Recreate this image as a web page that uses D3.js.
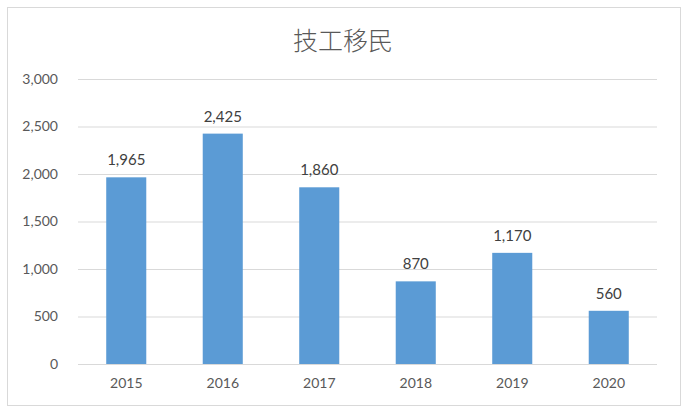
<!DOCTYPE html>
<html><head><meta charset="utf-8">
<script src="https://cdn.jsdelivr.net/npm/d3@7"></script>
<style>body{margin:0;background:#fff}svg{display:block}</style>
</head><body>
<svg id="c" width="688" height="408"></svg>
<script>
const categories = ["2015","2016","2017","2018","2019","2020"];
const values = [1965, 2425, 1860, 870, 1170, 560];
const yTicks = [0, 500, 1000, 1500, 2000, 2500, 3000];
const title = "技工移民";

const svg = d3.select("#c");
const W = 688, H = 408;
const m = {left: 78, right: 31, top: 79, bottom: 44};
svg.append("rect").attr("x", 7.5).attr("y", 7.5).attr("width", 673).attr("height", 398)
  .attr("fill", "#fff").attr("stroke", "#d9d9d9").attr("stroke-width", 1);

const x = d3.scaleBand().domain(categories).range([m.left, W - m.right]).paddingInner(0.585).paddingOuter(0.2925);
const y = d3.scaleLinear().domain([0, 3000]).range([364, 79]);
const fmt = d3.format(",");
const font = "Lato, 'Open Sans', sans-serif";

svg.append("text").attr("x", 343).attr("y", 50).attr("text-anchor", "middle")
  .attr("font-family", "'Noto Sans CJK SC', sans-serif").attr("font-weight", 300)
  .attr("font-size", 25).attr("fill", "#595959").text(title);

const yAxis = d3.axisLeft(y).tickValues(yTicks).tickFormat(fmt).tickSize(-(W - m.right - m.left)).tickPadding(20);
const gy = svg.append("g").attr("transform", `translate(${m.left},0)`).call(yAxis);
gy.select(".domain").remove();
gy.selectAll(".tick line").attr("stroke", "#d9d9d9").attr("stroke-width", 1.2);
gy.selectAll(".tick text").attr("font-family", font).attr("font-size", 14).attr("fill", "#595959");

const xAxis = d3.axisBottom(x).tickSize(0).tickPadding(14);
const gx = svg.append("g").attr("transform", `translate(0,364)`).call(xAxis);
gx.select(".domain").remove();
gx.selectAll(".tick text").attr("font-family", font).attr("font-size", 14).attr("fill", "#595959");

svg.append("g").selectAll("rect").data(values).join("rect")
  .attr("x", (d, i) => x(categories[i])).attr("width", x.bandwidth())
  .attr("y", d => y(d)).attr("height", d => y(0) - y(d)).attr("fill", "#5b9bd5");

svg.append("g").selectAll("text").data(values).join("text")
  .attr("x", (d, i) => x(categories[i]) + x.bandwidth() / 2).attr("y", d => y(d) - 12)
  .attr("text-anchor", "middle").attr("font-family", font).attr("font-size", 15)
  .attr("fill", "#404040").text(d => fmt(d));
</script>
</body></html>
